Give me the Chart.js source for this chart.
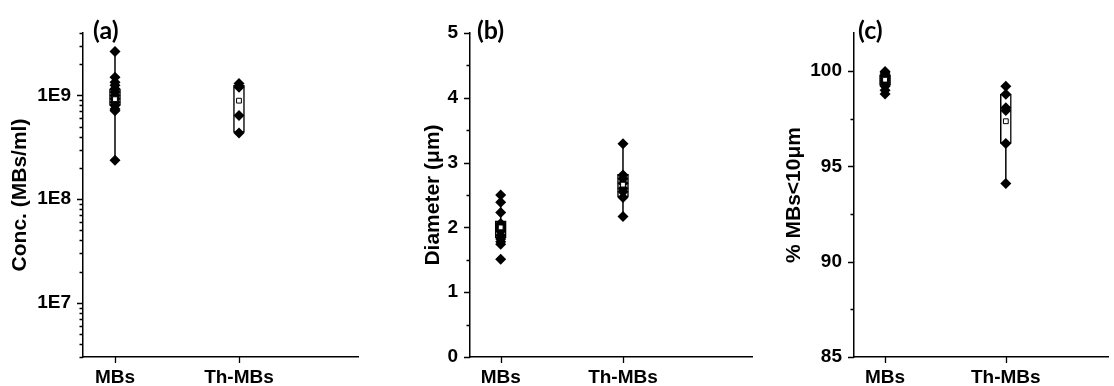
<!DOCTYPE html>
<html><head><meta charset="utf-8">
<script src="https://cdn.jsdelivr.net/npm/chart.js@4.4.0/dist/chart.umd.min.js"></script>
<style>
html,body{margin:0;padding:0;background:#fff;width:1114px;height:386px;overflow:hidden}
.p{position:absolute;top:0;height:386px}
</style></head><body>
<div class="p" style="left:0;width:372px"><canvas id="ca"></canvas></div>
<div class="p" style="left:372px;width:388px"><canvas id="cb"></canvas></div>
<div class="p" style="left:760px;width:354px"><canvas id="cc"></canvas></div>
<script>
// ---------- data ----------
const categories = ['MBs', 'Th-MBs'];

// (a) concentration (MBs/ml)
const concMBs = [2.65e9, 1.50e9, 1.34e9, 1.25e9, 1.16e9, 1.08e9, 1.0e9, 0.93e9, 0.86e9, 0.80e9, 0.74e9, 0.71e9, 2.37e8];
const concThMBs = [1.30e9, 1.20e9, 0.64e9, 0.434e9];
const concBox = [[0.80e9, 1.15e9], [0.44e9, 1.25e9]];
const concWhisker = [[2.37e8, 2.65e9], [0.434e9, 1.30e9]];
const concMean = [0.92e9, 0.89e9];
const concTicks = [1e7, 1e8, 1e9];
const concTickLabels = ['1E7', '1E8', '1E9'];

// (b) diameter (um)
const diamMBs = [2.50, 2.39, 2.23, 2.06, 2.03, 2.00, 1.97, 1.94, 1.88, 1.82, 1.78, 1.74, 1.51];
const diamThMBs = [3.29, 2.81, 2.75, 2.68, 2.60, 2.55, 2.46, 2.17];
const diamBox = [[1.84, 2.10], [2.47, 2.82]];
const diamWhisker = [[1.74, 2.50], [2.17, 3.29]];
const diamMean = [2.0, 2.66];
const diamTicks = [0, 1, 2, 3, 4, 5];
const diamTickLabels = ['0', '1', '2', '3', '4', '5'];
const diamMinor = [0.5, 1.5, 2.5, 3.5, 4.5];

// (c) % MBs < 10 um
const pctMBs = [99.98, 99.9, 99.8, 99.7, 99.6, 99.5, 99.4, 99.3, 99.2, 99.0, 98.8];
const pctThMBs = [99.2, 98.78, 98.08, 97.94, 96.2, 94.1];
const pctBox = [[99.25, 99.8], [96.2, 98.8]];
const pctWhisker = [[98.8, 99.98], [94.1, 99.2]];
const pctMean = [99.55, 97.37];
const pctTicks = [85, 90, 95, 100];
const pctTickLabels = ['85', '90', '95', '100'];
const pctMinor = [87.5, 92.5, 97.5];

// log minor ticks for (a)
const concMinor = [];
[1e6, 1e7, 1e8, 1e9].forEach(d => { for (let m = 2; m <= 9; m++) { const v = m * d; if (v >= 3e6 && v <= 4e9) concMinor.push(v); } });

// ---------- helpers ----------
Chart.defaults.font.family = "'Liberation Sans', Arial, sans-serif";
Chart.defaults.color = '#000';

function buildDatasets(groups, box, whisk, mean) {
  const ds = [];
  whisk.forEach((w, i) => ds.push({
    type: 'line', data: [{x: i + 1, y: w[0]}, {x: i + 1, y: w[1]}],
    borderColor: '#000', borderWidth: 1.5, pointRadius: 0, order: 4
  }));
  ds.push({
    type: 'bar', data: box.map((b, i) => ({x: i + 1, y: b})),
    backgroundColor: '#fff', borderColor: '#000', borderWidth: 1.5,
    borderSkipped: false, barThickness: 11, grouped: false, order: 3
  });
  groups.forEach((arr, i) => ds.push({
    type: 'line', showLine: false, data: arr.map(v => ({x: i + 1, y: v})),
    pointStyle: 'rectRot', pointRadius: 5.5, backgroundColor: '#000',
    borderColor: '#000', borderWidth: 0, order: 2
  }));
  ds.push({
    type: 'line', showLine: false, data: mean.map((v, i) => ({x: i + 1, y: v})),
    pointStyle: 'rect', pointRadius: 3.4, backgroundColor: '#fff',
    borderColor: '#000', borderWidth: 1, order: 1
  });
  return ds;
}

function decor(letter, dx, major, minor) {
  return {
    id: 'decor' + letter,
    afterDraw(chart) {
      const ctx = chart.ctx, ys = chart.scales.y, xs = chart.scales.x, a = chart.chartArea;
      ctx.save();
      ctx.strokeStyle = '#000';
      ctx.lineWidth = 1.3;
      ctx.beginPath();
      major.forEach(v => { const p = Math.round(ys.getPixelForValue(v)) + 0.5; ctx.moveTo(a.left, p); ctx.lineTo(a.left - 6, p); });
      minor.forEach(v => { const p = Math.round(ys.getPixelForValue(v)) + 0.5; ctx.moveTo(a.left, p); ctx.lineTo(a.left - 3.5, p); });
      categories.forEach((c, i) => { const p = Math.round(xs.getPixelForValue(i + 1)) + 0.5; ctx.moveTo(p, a.bottom); ctx.lineTo(p, a.bottom + 6); });
      ctx.stroke();
      ctx.fillStyle = '#000';
      ctx.font = "bold 25px Lato, 'Open Sans', sans-serif";
      ctx.textBaseline = 'middle';
      ctx.textAlign = 'left';
      ctx.fillText(letter, a.left + dx, 31);
      ctx.restore();
    }
  };
}

function makeChart(id, cfg) {
  const yScale = Object.assign({
    position: 'left',
    afterFit: s => { s.width = cfg.yWidth; },
    afterBuildTicks: s => { s.ticks = cfg.ticks.map(v => ({value: v})); },
    ticks: {
      callback: (v, i) => cfg.tickLabels[i],
      font: {size: 19, weight: 'bold'}, color: '#000', padding: 12, autoSkip: false
    },
    grid: {display: false, drawTicks: false},
    border: {display: true, color: '#000', width: 1.5},
    title: {
      display: true, text: cfg.title, color: '#000',
      font: {size: 21, weight: 'bold'}, padding: {top: cfg.titlePad, bottom: 0}
    }
  }, cfg.yScale);

  return new Chart(document.getElementById(id), {
    type: 'bar',
    data: {datasets: buildDatasets(cfg.groups, cfg.box, cfg.whisk, cfg.mean)},
    options: {
      responsive: true, maintainAspectRatio: false, animation: false, events: [],
      layout: {padding: {top: 33, left: 0, right: cfg.rightPad, bottom: 0}},
      plugins: {legend: {display: false}, tooltip: {enabled: false}},
      scales: {
        x: {
          type: 'linear', offset: false, min: cfg.xRange[0], max: cfg.xRange[1],
          afterFit: s => { s.height = 29; },
          afterBuildTicks: s => { s.ticks = categories.map((c, i) => ({value: i + 1})); },
          ticks: {
            callback: v => categories[Math.round(v) - 1] || '',
            font: {size: 19, weight: 'bold'}, color: '#000', padding: 9, maxRotation: 0, autoSkip: false
          },
          grid: {display: false, drawTicks: false, offset: false},
          border: {display: true, color: '#000', width: 1.5}
        },
        y: yScale
      }
    },
    plugins: [decor(cfg.letter, cfg.letterDx, cfg.ticks, cfg.minor)]
  });
}

makeChart('ca', {
  groups: [concMBs, concThMBs], box: concBox, whisk: concWhisker, mean: concMean,
  ticks: concTicks, tickLabels: concTickLabels, minor: concMinor,
  yScale: {type: 'logarithmic', min: 3e6, max: 4e9},
  title: 'Conc. (MBs/ml)', titlePad: 7.4, yWidth: 83, rightPad: 14,
  xRange: [0.742, 2.96], letter: '(a)', letterDx: 10
});
makeChart('cb', {
  groups: [diamMBs, diamThMBs], box: diamBox, whisk: diamWhisker, mean: diamMean,
  ticks: diamTicks, tickLabels: diamTickLabels, minor: diamMinor,
  yScale: {type: 'linear', min: 0, max: 5},
  title: 'Diameter (\u03bcm)', titlePad: 48.4, yWidth: 98, rightPad: 8,
  xRange: [0.749, 3.055], letter: '(b)', letterDx: 7
});
makeChart('cc', {
  groups: [pctMBs, pctThMBs], box: pctBox, whisk: pctWhisker, mean: pctMean,
  ticks: pctTicks, tickLabels: pctTickLabels, minor: pctMinor,
  yScale: {type: 'linear', min: 85, max: 102},
  title: '% MBs<10\u03bcm', titlePad: 21.4, yWidth: 94, rightPad: 0,
  xRange: [0.743, 2.85], letter: '(c)', letterDx: 4
});
</script>
</body></html>
